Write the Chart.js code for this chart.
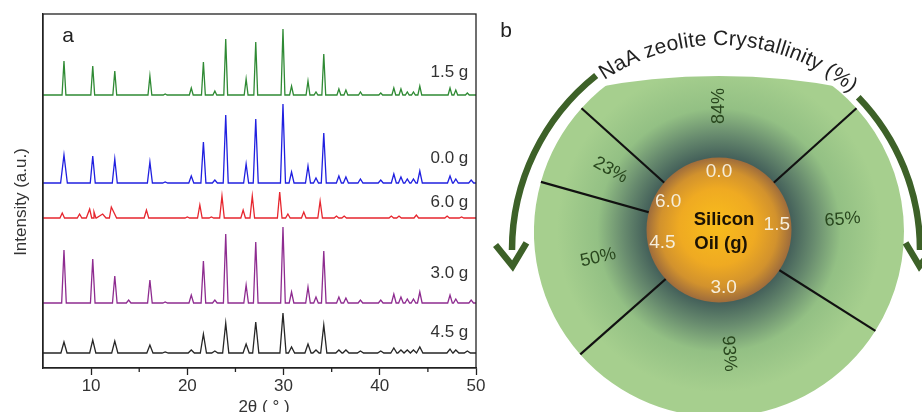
<!DOCTYPE html>
<html>
<head>
<meta charset="utf-8">
<script src="https://cdn.jsdelivr.net/npm/chart.js@4.4.0/dist/chart.umd.min.js"></script>
<style>
  html, body { margin: 0; padding: 0; background: #fff; overflow: hidden; }
  body { width: 922px; height: 412px; position: relative; }
  #xrd { position: absolute; left: 0; top: 0; }
  #wheel { position: absolute; left: 490px; top: 0; }
</style>
</head>
<body>
<canvas id="xrd" width="490" height="412"></canvas>
<canvas id="wheel" width="432" height="484"></canvas>
<script>
const FONT = '"Liberation Sans", Arial, sans-serif';
Chart.defaults.font.family = FONT;

// ---------- panel a: XRD patterns ----------
// stacked traces, top to bottom
const sampleNames = ['1.5 g', '0.0 g', '6.0 g', '3.0 g', '4.5 g'];
const baselines = [273, 185, 150, 65, 15];
const peakWidth = [0.2, 0.26, 0.24, 0.24, 0.32];

// peaks as [2θ, height above baseline, optional half width]
const peaks15 = [[7.18,34],[10.17,29],[12.46,24],[16.11,19],[17.7,1],[20.41,7],[21.67,33],[22.86,4],[23.99,56],[26.11,16],[27.11,53],[29.94,66],[30.83,9],[32.54,14],[33.37,3],[34.18,41],[35.75,6],[36.48,5],[37.99,3],[40.1,2],[41.46,7],[42.2,6],[42.86,3],[43.5,3],[44.16,9],[47.3,7],[47.9,5],[49.1,2]];
const peaks00 = [[7.18,28,0.35],[10.17,27],[12.46,24],[16.11,21],[17.7,1],[20.41,7],[21.67,41],[22.86,3],[23.99,68],[26.11,19],[27.11,64],[29.94,79],[30.83,11],[32.54,17],[33.37,5],[34.18,50],[35.75,7],[36.48,6],[37.99,4],[40.1,3],[41.46,9],[42.2,6],[42.86,4],[43.5,4],[44.16,12],[47.3,7],[47.9,4],[49.5,3]];
const peaks60 = [[7.0,5],[8.8,4],[9.85,9,0.35],[10.3,6],[11.2,4,0.7],[12.1,11,0.55],[15.75,8],[20.0,1],[21.3,13],[22.5,1],[23.6,22],[25.8,8],[26.75,22],[29.6,26],[30.45,4],[32.1,6],[33.8,17],[35.5,2],[36.3,2],[41.2,2],[42.0,2],[43.8,3],[47.0,2],[48.5,1]];
const peaks30 = [[7.18,53],[10.17,44],[12.46,27],[13.9,3],[16.11,23],[17.7,1],[20.41,8],[21.67,42],[22.86,3],[23.99,69],[26.11,18],[27.11,61],[29.94,76],[30.83,11],[32.54,16],[33.37,6],[34.18,52],[35.75,6],[36.48,5],[37.99,3],[40.1,3],[41.46,9],[42.2,6],[42.86,4],[43.5,4],[44.16,11],[47.3,8],[47.9,4],[49.5,3]];
const peaks45 = [[7.18,11],[10.17,13],[12.46,12],[16.11,8],[17.7,1],[20.41,3],[21.67,19],[22.86,2],[23.99,30],[26.11,9],[27.11,31],[29.94,40],[30.83,6],[32.54,9],[33.37,3],[34.18,28],[35.75,3],[36.48,3],[37.99,2],[40.1,2],[41.46,5],[42.2,3],[42.86,3],[43.5,3],[44.16,6],[47.3,4],[47.9,3],[49.1,2]];
const allPeaks = [peaks15, peaks00, peaks60, peaks30, peaks45];

const xTicks = [10, 20, 30, 40, 50];
const minorTicks = [15, 25, 35, 45];

const traceColors = ['#2f8a34', '#2020e0', '#e6262e', '#8e2c90', '#262626'];
const labelLift = [23, 25, 16, 30, 21];

function profile(peaks, base, w) {
  const pts = [{ x: 5, y: base }];
  peaks.forEach(([pos, h, hw]) => {
    const d = hw || w;
    pts.push({ x: pos - d, y: base }, { x: pos, y: base + h }, { x: pos + d, y: base });
  });
  pts.push({ x: 50, y: base });
  return pts.sort((a, b) => a.x - b.x);
}

const xrdDecor = {
  id: 'xrdDecor',
  afterDraw(chart) {
    const { ctx, chartArea: ca, scales: { x, y } } = chart;
    ctx.save();
    ctx.strokeStyle = '#222';
    ctx.lineWidth = 1.3;
    ctx.strokeRect(ca.left, ca.top, ca.right - ca.left, ca.bottom - ca.top);
    minorTicks.forEach(v => {
      const px = x.getPixelForValue(v);
      ctx.beginPath();
      ctx.moveTo(px, ca.bottom);
      ctx.lineTo(px, ca.bottom + 4);
      ctx.stroke();
    });
    ctx.fillStyle = '#333';
    ctx.font = '17px ' + FONT;
    ctx.textAlign = 'right';
    ctx.textBaseline = 'middle';
    sampleNames.forEach((name, i) => {
      ctx.fillText(name, x.getPixelForValue(49.2), y.getPixelForValue(baselines[i] + labelLift[i]));
    });
    // axis titles
    ctx.textAlign = 'center';
    ctx.fillText('2θ ( ° )', 264, 407);
    ctx.save();
    ctx.translate(21, 202);
    ctx.rotate(-Math.PI / 2);
    ctx.fillText('Intensity (a.u.)', 0, 0);
    ctx.restore();
    ctx.fillStyle = '#222';
    ctx.font = '21px ' + FONT;
    ctx.fillText('a', 68, 36);
    ctx.restore();
  }
};

new Chart(document.getElementById('xrd'), {
  type: 'line',
  data: {
    datasets: sampleNames.map((name, i) => ({
      label: name,
      data: profile(allPeaks[i], baselines[i], peakWidth[i]),
      borderColor: traceColors[i],
      borderWidth: 1.3,
      pointRadius: 0,
      tension: 0,
      fill: false
    }))
  },
  options: {
    responsive: false,
    animation: false,
    events: [],
    layout: { padding: { top: 14, right: 14 } },
    plugins: { legend: { display: false }, tooltip: { enabled: false } },
    scales: {
      x: {
        type: 'linear',
        min: 5,
        max: 50,
        afterFit: s => { s.height = 44; },
        afterBuildTicks: s => { s.ticks = xTicks.map(v => ({ value: v })); },
        border: { color: '#222', width: 1.3 },
        grid: { drawOnChartArea: false, tickLength: 7, tickColor: '#222', tickWidth: 1.3 },
        ticks: { color: '#333', font: { size: 17 }, padding: 1, maxRotation: 0, autoSkip: false }
      },
      y: {
        min: 0,
        max: 354,
        afterFit: s => { s.width = 43; },
        border: { color: '#222', width: 1.3 },
        grid: { display: false },
        ticks: { display: false }
      }
    }
  },
  plugins: [xrdDecor]
});

// ---------- panel b: crystallinity wheel ----------
const wheelSamples = ['0.0', '1.5', '3.0', '4.5', '6.0'];
const crystallinity = [84, 65, 93, 50, 23];

const BALL = { x: 229, y: 230, r: 72.5 };

function ringFill(context) {
  const g = context.chart.ctx.createRadialGradient(BALL.x, BALL.y, BALL.r, BALL.x, BALL.y, 162);
  g.addColorStop(0, '#44605a');
  g.addColorStop(0.25, '#678a6e');
  g.addColorStop(0.55, '#93c084');
  g.addColorStop(1, '#a6cf8e');
  return g;
}

function arrow(ctx, cx, cy, r, a0, a1, dir) {
  ctx.beginPath();
  ctx.arc(cx, cy, r, a0, a1, dir < 0);
  ctx.stroke();
  const at = a1 + dir * 16 / r;
  const tx = cx + r * Math.cos(at), ty = cy + r * Math.sin(at);
  const mx = dir * -Math.sin(at), my = dir * Math.cos(at);
  ctx.beginPath();
  [-1, 1].forEach((s, k) => {
    const t = s * 35 * Math.PI / 180;
    const bx = -mx * Math.cos(t) + my * Math.sin(t);
    const by = -mx * Math.sin(t) - my * Math.cos(t);
    if (k === 0) { ctx.moveTo(tx + 27 * bx, ty + 27 * by); ctx.lineTo(tx, ty); }
    else ctx.lineTo(tx + 27 * bx, ty + 27 * by);
  });
  ctx.stroke();
}

const wheelDecor = {
  id: 'wheelDecor',
  beforeDatasetsDraw(chart) {
    const ctx = chart.ctx;
    ctx.save();
    ctx.beginPath();
    ctx.arc(229, 76 + 684, 684, 0, Math.PI * 2);
    ctx.clip();
  },
  afterDatasetsDraw(chart) {
    const ctx = chart.ctx;
    ctx.restore();
    const arcs = chart.getDatasetMeta(0).data;
    ctx.save();

    // wedge separators
    ctx.strokeStyle = '#111';
    ctx.lineWidth = 2.2;
    arcs.forEach(a => {
      ctx.beginPath();
      ctx.moveTo(a.x, a.y);
      ctx.lineTo(a.x + a.outerRadius * Math.cos(a.startAngle), a.y + a.outerRadius * Math.sin(a.startAngle));
      ctx.stroke();
    });

    // silicon oil core
    const g = ctx.createRadialGradient(BALL.x - 3, BALL.y - 6, 4, BALL.x, BALL.y, BALL.r);
    g.addColorStop(0, '#f8bb1c');
    g.addColorStop(0.5, '#efaa22');
    g.addColorStop(0.8, '#d2922d');
    g.addColorStop(1, '#9e6c3c');
    ctx.fillStyle = g;
    ctx.beginPath();
    ctx.arc(BALL.x, BALL.y, BALL.r, 0, Math.PI * 2);
    ctx.fill();

    ctx.textAlign = 'center';
    ctx.textBaseline = 'middle';
    ctx.fillStyle = '#1b1204';
    ctx.font = 'bold 18.5px ' + FONT;
    ctx.fillText('Silicon', 234, 220);
    ctx.fillText('Oil (g)', 231, 244);

    arcs.forEach((a, i) => {
      const mid = (a.startAngle + a.endAngle) / 2;
      ctx.fillStyle = '#f6eedb';
      ctx.font = '19px ' + FONT;
      ctx.fillText(wheelSamples[i], BALL.x + 58 * Math.cos(mid), BALL.y + 58 * Math.sin(mid));
      ctx.save();
      ctx.translate(BALL.x + 124 * Math.cos(mid), BALL.y + 124 * Math.sin(mid));
      ctx.rotate(Math.cos(mid) < -0.01 ? mid + Math.PI : mid);
      ctx.fillStyle = '#28461d';
      ctx.font = '18px ' + FONT;
      ctx.fillText(crystallinity[i] + '%', 0, 0);
      ctx.restore();
    });

    // curved title
    const title = 'NaA zeolite Crystallinity (%)';
    const tr = 205, tcx = 229, tcy = 250, spacing = 0.2;
    ctx.font = '21px ' + FONT;
    ctx.fillStyle = '#222';
    ctx.textBaseline = 'alphabetic';
    const widths = [...title].map(ch => ctx.measureText(ch).width + spacing);
    const total = widths.reduce((s, w) => s + w, 0);
    let ang = -Math.PI / 2 + 3 * Math.PI / 180 - total / tr / 2;
    [...title].forEach((ch, i) => {
      const a = ang + widths[i] / 2 / tr;
      ctx.save();
      ctx.translate(tcx + tr * Math.cos(a), tcy + tr * Math.sin(a));
      ctx.rotate(a + Math.PI / 2);
      ctx.fillText(ch, 0, 0);
      ctx.restore();
      ang += widths[i] / tr;
    });

    // direction arrows
    ctx.strokeStyle = '#3d6128';
    ctx.lineWidth = 6.5;
    ctx.lineJoin = 'miter';
    const d = Math.PI / 180;
    arrow(ctx, 245, 250, 223, -128.5 * d, -180 * d, -1);
    arrow(ctx, 210, 250, 220, -44 * d, 0, 1);

    ctx.fillStyle = '#222';
    ctx.font = '21px ' + FONT;
    ctx.textBaseline = 'middle';
    ctx.fillText('b', 16, 31);
    ctx.restore();
  }
};

new Chart(document.getElementById('wheel'), {
  type: 'doughnut',
  data: {
    labels: wheelSamples,
    datasets: [{
      data: crystallinity,
      backgroundColor: ringFill,
      borderWidth: 0,
      hoverOffset: 0
    }]
  },
  options: {
    responsive: false,
    animation: false,
    events: [],
    rotation: -48,
    cutout: 0,
    radius: 185,
    layout: { padding: { left: 26, right: 0, top: 0, bottom: 20 } },
    plugins: { legend: { display: false }, tooltip: { enabled: false } }
  },
  plugins: [wheelDecor]
});
</script>
</body>
</html>
